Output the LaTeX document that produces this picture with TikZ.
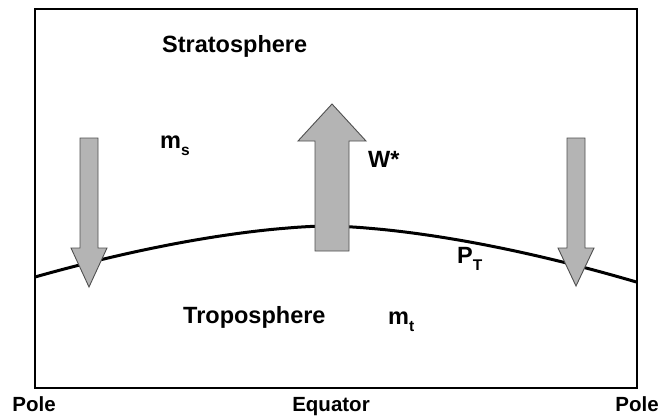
\documentclass[tikz,border=0pt]{standalone}
\usepackage{fontspec}
\setmainfont{Liberation Sans}
\newcommand\lowsub[1]{\raisebox{-7pt}{\fontsize{15.5}{15.5}\selectfont #1}}
\tikzset{
  lbl/.style={inner sep=0pt, font=\fontsize{23.5}{23.5}\selectfont\bfseries, anchor=base west},
  axlbl/.style={inner sep=0pt, font=\fontsize{20.5}{20.5}\selectfont\bfseries, anchor=base},
  fatarrow/.style={fill=arrowfill, draw=arrowline, line width=0.9pt, line join=miter},
  frame/.style={draw=black, line width=2pt},
  tropo/.style={draw=black, line width=3pt}
}
\definecolor{arrowfill}{HTML}{B4B4B4}
\definecolor{arrowline}{HTML}{505050}
\begin{document}
\begin{tikzpicture}[x=1pt, y=-1pt]
\useasboundingbox (0,0) rectangle (666,417);
\fill[white] (0,0) rectangle (666,417);
% frame
\draw[frame] (35,9) rectangle (637,388);
% tropopause
\draw[tropo] plot[domain=35:637, samples=80, smooth] (\x, {226+51*pow(abs(\x-327)/292,1.62)});
% left down arrow
\draw[fatarrow] (80,138) -- (98,138) -- (98,248) -- (107,248) -- (89,287) -- (71,248) -- (80,248) -- cycle;
% right down arrow
\draw[fatarrow] (567,138) -- (585,138) -- (585,248) -- (594,248) -- (576,286) -- (558,248) -- (567,248) -- cycle;
% central up arrow
\draw[fatarrow] (315,251) -- (315,141) -- (298,141) -- (332,104) -- (366,141) -- (349,141) -- (349,251) -- cycle;
% labels
\node[lbl] (strat) at (162,53) {Stratosphere};
\node[lbl] (trop) at (183,323) {Troposphere};
\node[lbl] (ms) at (160,148) {m\lowsub{s}};
\node[lbl] (mt) at (388,324) {m\lowsub{t}};
\node[lbl] (w) at (368,167) {W*};
\node[lbl] (pt) at (457,263) {P\lowsub{T}};
\node[axlbl] (pole1) at (34,411) {Pole};
\node[axlbl] (eq) at (331,411) {Equator};
\node[axlbl] (pole2) at (637,411) {Pole};
\end{tikzpicture}
\end{document}
